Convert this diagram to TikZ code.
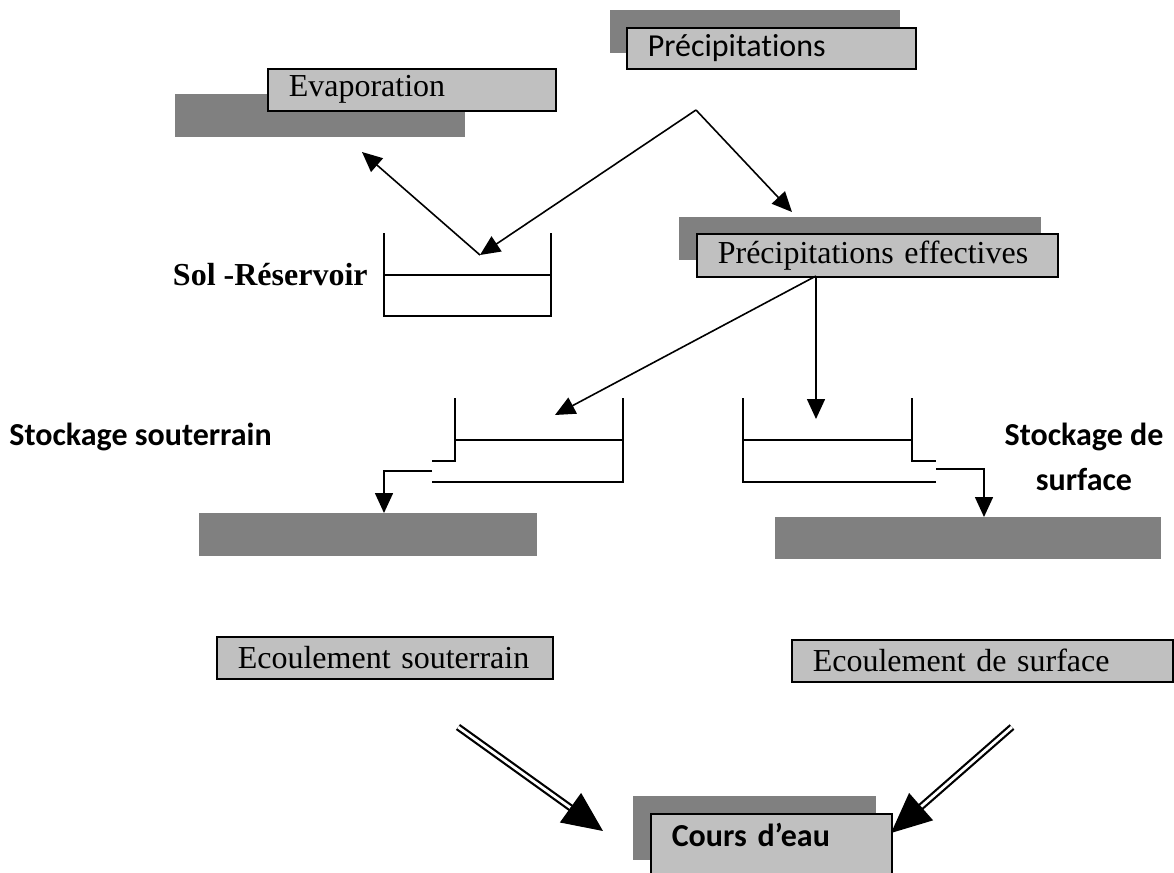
\documentclass[tikz,border=0pt]{standalone}
\usepackage{fontspec}
\setmainfont{Liberation Serif}
\newfontfamily\calibri[Ligatures=NoCommon]{Carlito}
\usetikzlibrary{arrows.meta,calc}
\definecolor{gris}{RGB}{128,128,128}
\definecolor{grisclaro}{RGB}{192,192,192}
\tikzset{
  sombra/.style={fill=gris,anchor=north west,inner sep=0pt},
  caja/.style={draw,fill=grisclaro,line width=0.8pt,anchor=north west,inner xsep=10.5pt,inner ysep=0pt,align=left,font=\fontsize{16}{19}\selectfont},
  texto/.style={inner sep=0pt,font=\fontsize{16}{19}\selectfont\bfseries},
  flecha/.style={-{Triangle[length=10pt,width=9pt]},line width=0.8pt},
  doble/.style={double,double distance=1.4pt,line width=1.1pt,shorten >=19pt},
  punta/.style={-{Triangle[length=20pt,width=18pt]},line width=0.8pt},
  deposito/.style={line width=0.8pt}
}
\begin{document}
\begin{tikzpicture}[x=0.5pt,y=-0.5pt]
		\useasboundingbox (0,0) rectangle (1174,873);

		%Sombras
		\node [sombra,minimum width=145pt,minimum height=21.5pt] (sombraPrec) at (610,10) {};
		\node [sombra,minimum width=145pt,minimum height=21.5pt] (sombraEvap) at (175,94) {};
		\node [sombra,minimum width=181pt,minimum height=21.5pt] (sombraEff) at (679,217) {};
		\node [sombra,minimum width=169pt,minimum height=21.5pt] (sombraSout) at (199,513) {};
		\node [sombra,minimum width=193pt,minimum height=21pt] (sombraSurf) at (775,517) {};
		\node [sombra,minimum width=121.5pt,minimum height=32pt] (sombraCours) at (633,796) {};

		%Nodos
		\node [caja,text width=123.5pt,minimum height=20.5pt] (nodoPrec) at (626,27) {\calibri Précipitations};
		\node [caja,text width=123pt,minimum height=21pt] (nodoEvap) at (267,68) {Evaporation};
		\node [caja,text width=159.5pt,minimum height=21.5pt] (nodoEff) at (696,233) {Précipitations effectives};
		\node [caja,text width=147pt,minimum height=21pt] (nodoSout) at (216,636) {Ecoulement souterrain};
		\node [caja,text width=169.5pt,minimum height=21pt] (nodoSurf) at (791,639) {Ecoulement de surface};
		\node [caja,text width=99.5pt,text height=16.4pt,text depth=18.6pt] (nodoCours) at (650,813) {\calibri\bfseries Cours d’eau};

		\node [texto,anchor=base east] (nodoSol) at (368,285) {Sol -Réservoir};
		\node [texto,font=\calibri\bfseries\fontsize{16}{19}\selectfont,anchor=base west] (nodoStockSout) at (9,445) {Stockage souterrain};
		\node [texto,font=\calibri\bfseries\fontsize{16}{22.5}\selectfont,align=center,anchor=base] (nodoStockSurf) at (1084,490) {Stockage de\\surface};

		%Depositos
		\draw [deposito] (384,233) -- (384,316) -- (551,316) -- (551,233);
		\draw [deposito] (384,275) -- (551,275);
		\draw [deposito] (455,398) -- (455,461) -- (432,461);
		\draw [deposito] (432,482) -- (623,482) -- (623,398);
		\draw [deposito] (455,440) -- (623,440);
		\draw [deposito] (912,398) -- (912,461) -- (936,461);
		\draw [deposito] (936,482) -- (743,482) -- (743,398);
		\draw [deposito] (743,440) -- (912,440);

		%Puntos
		\coordinate (nodoDiv) at (696,110);
		\coordinate (puntoSol) at (480,255);
		\coordinate (puntoEvap) at (362,152);
		\coordinate (puntoEff) at (792,212);
		\coordinate (nodoEffBajo) at (816,276);
		\coordinate (puntoSout) at (555,415);
		\coordinate (puntoSurf) at (816,419);
		\coordinate (salidaSout) at (432,471);
		\coordinate (salidaSurf) at (936,469);
		\coordinate (puntoIzq) at (458,727);
		\coordinate (puntoDer) at (1012,727);
		\coordinate (puntoCours1) at (603,831);
		\coordinate (puntoCours2) at (891,833);

		%Arcos
		\draw [flecha] (nodoDiv)--(puntoSol);
		\draw [flecha] (nodoDiv)--(puntoEff);
		\draw [flecha] (puntoSol)--(puntoEvap);
		\draw [flecha] (nodoEffBajo)--(puntoSout);
		\draw [flecha] (nodoEffBajo)--(puntoSurf);
		\draw [flecha] (salidaSout) -| (sombraSout.north west -| 384,0);
		\draw [flecha] (salidaSurf) -| (sombraSurf.north west -| 984,0);
		\draw [doble] (puntoIzq)--(puntoCours1);
		\draw [punta] ($(puntoCours1)!20pt!(puntoIzq)$)--(puntoCours1);
		\draw [doble] (puntoDer)--(puntoCours2);
		\draw [punta] ($(puntoCours2)!20pt!(puntoDer)$)--(puntoCours2);
\end{tikzpicture}
\end{document}
